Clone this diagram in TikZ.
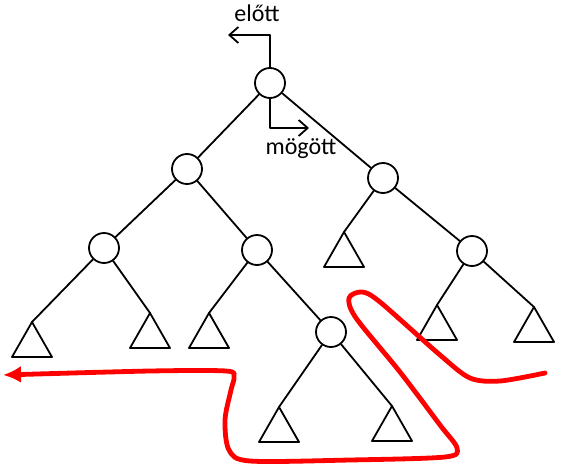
\documentclass[tikz,border=0pt]{standalone}
\usepackage{fontspec}
\setmainfont{Carlito}
\usetikzlibrary{arrows.meta, positioning}
\definecolor{ink}{HTML}{000000}
\definecolor{walk}{HTML}{FF0000}
\tikzset{el/.style={line cap=round, line join=round},
  knot/.style={circle, draw=ink, line width=1.8pt, minimum size=30pt, inner sep=0pt, fill=white},
  lbl/.style={font=\fontsize{24}{28}\selectfont, text=ink, inner sep=0pt}}

\begin{document}
\begin{tikzpicture}[el, x=1pt, y=-1pt, line width=1.8pt, ink]
  \useasboundingbox (0,0) rectangle (562,466);
  % the tree
  \node[knot] (root) at (270,83) {};
  \node[knot] (l) at (187,169) {};   \node[knot] (r) at (383,178) {};
  \node[knot] (ll) at (104,248) {};  \node[knot] (lr) at (257,250) {};
  \node[knot] (rr) at (472,251) {};  \node[knot] (lrr) at (331,332) {};
  \foreach \n/\x/\y in {t1/32/322, t2/150/313, t3/209/313, t4/344/232,
      t5/437/305, t6/534/307, t7/279/407, t8/392/406}{
    \coordinate (\n) at (\x,\y);
    \draw (\n) -- ++(-20,35) -- ++(40,0) -- cycle;}
  \draw (root) -- (l) (root) -- (r) (l) -- (ll) (l) -- (lr) (r) -- (rr) (lr) -- (lrr);
  \draw (ll) -- (t1) (ll) -- (t2) (lr) -- (t3) (r) -- (t4) (rr) -- (t5) (rr) -- (t6) (lrr) -- (t7) (lrr) -- (t8);
  % before / after
  \coordinate (pre) at (228,35); \coordinate (post) at (309,128);
  \draw[-{Straight Barb[length=9pt,width=16pt]}] (root.north) |- (pre);
  \draw[-{Straight Barb[length=9pt,width=16pt]}] (root.south) |- (post);
  \node[lbl] (pretxt) at (257,13) {előtt};
  \node[lbl] (posttxt) at (301,149) {mögött};
  % the walk
  \draw[walk, line width=4.8pt, -{Latex[length=18pt,width=17pt]}] plot[smooth, tension=0.5] coordinates {
    (545,373) (500,381) (470,378) (440,355) (380,302) (362,292) (349,298) (356,318) (400,372)
    (440,425) (457,448) (445,457) (350,460) (250,461) (229,450) (225,420) (231,390) (234,377)
    (226,371) (150,371) (3,375)};
\end{tikzpicture}
\end{document}
